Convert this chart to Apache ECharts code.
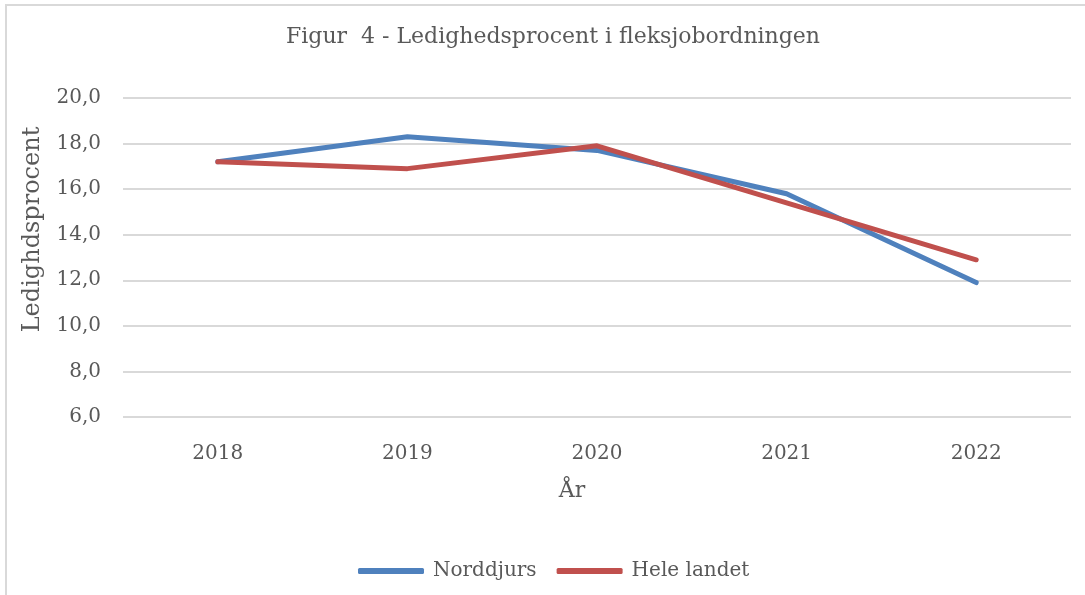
<!DOCTYPE html>
<html>
<head>
<meta charset="utf-8">
<script src="https://cdn.jsdelivr.net/npm/echarts@6/dist/echarts.min.js"></script>
<style>
	html, body { margin: 0; padding: 0; background: #fff; }
	#main { width: 1085px; height: 595px; }
</style>
</head>
<body>
<div id="main"></div>
<script>
const years = ['2018', '2019', '2020', '2021', '2022'];
const norddjurs = [17.2, 18.3, 17.7, 15.8, 11.9];
const heleLandet = [17.2, 16.9, 17.9, 15.4, 12.9];
const yMin = 6;
const yMax = 20;
const yStep = 2;

const font = 'DejaVu Serif';
const textColor = '#595959';

const chart = echarts.init(document.getElementById('main'));

const option = {
	backgroundColor: '#fff',
	color: ['#4f81bd', '#c0504d'],
	textStyle: { fontFamily: font },
	graphic: [{
		type: 'rect',
		shape: { x: 6, y: 5, width: 1200, height: 700 },
		style: { fill: 'none', stroke: '#d9d9d9', lineWidth: 2 },
		silent: true
	}],
	title: {
		text: 'Figur  4 - Ledighedsprocent i fleksjobordningen',
		left: 286,
		top: 26,
		padding: 0,
		textStyle: {
			fontFamily: font,
			fontWeight: 'normal',
			fontSize: 22,
			color: textColor
		}
	},
	legend: {
		bottom: 14,
		left: 358,
		padding: 0,
		icon: 'roundRect',
		itemWidth: 66,
		itemHeight: 6,
		itemGap: 20,
		textStyle: { fontFamily: font, fontSize: 20, color: textColor, padding: [0, 0, 0, 4] },
		data: ['Norddjurs', 'Hele landet']
	},
	grid: {
		left: 123,
		right: 14,
		top: 98,
		bottom: 178,
		containLabel: false
	},
	xAxis: {
		type: 'category',
		data: years,
		boundaryGap: true,
		name: 'År',
		nameLocation: 'middle',
		nameGap: 63,
		nameTextStyle: { fontFamily: font, fontSize: 22, color: textColor, padding: [0, 50, 0, 0] },
		axisLine: { show: false },
		axisTick: { show: false },
		axisLabel: { margin: 27, fontFamily: font, fontSize: 20, color: textColor }
	},
	yAxis: {
		type: 'value',
		min: yMin,
		max: yMax,
		interval: yStep,
		name: 'Ledighdsprocent',
		nameLocation: 'middle',
		nameGap: 78,
		nameTextStyle: { fontFamily: font, fontSize: 24, color: textColor, padding: [0, 0, 0, 56] },
		axisLine: { show: false },
		axisTick: { show: false },
		axisLabel: {
			margin: 22,
			fontFamily: font,
			fontSize: 20,
			color: textColor,
			formatter: v => v.toFixed(1).replace('.', ',')
		},
		splitLine: { lineStyle: { color: '#d9d9d9', width: 2 } }
	},
	series: [{
		name: 'Norddjurs',
		type: 'line',
		data: norddjurs,
		symbol: 'none',
		lineStyle: { width: 5, cap: 'round', join: 'round' }
	}, {
		name: 'Hele landet',
		type: 'line',
		data: heleLandet,
		symbol: 'none',
		lineStyle: { width: 5, cap: 'round', join: 'round' }
	}]
};

chart.setOption(option);
</script>
</body>
</html>
